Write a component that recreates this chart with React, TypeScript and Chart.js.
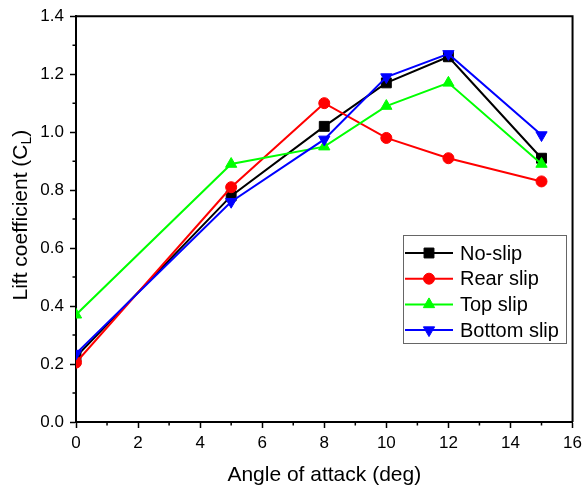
import React, { useEffect, useRef } from 'react';
import { Chart, registerables } from 'chart.js';
import { drawPoint } from 'chart.js/helpers';

Chart.register(...registerables);

const angles = [0, 5, 8, 10, 12, 15];
const noSlip = [0.225, 0.78, 1.02, 1.17, 1.26, 0.91];
const rearSlip = [0.205, 0.81, 1.1, 0.98, 0.91, 0.83];
const topSlip = [0.37, 0.89, 0.95, 1.09, 1.17, 0.89];
const bottomSlip = [0.236, 0.76, 0.975, 1.19, 1.27, 0.99];
const seriesNames = ['No-slip', 'Rear slip', 'Top slip', 'Bottom slip'];
const seriesColors = ['#000000', '#ff0000', '#00ff00', '#0000ff'];
const xTitle = 'Angle of attack (deg)';
const yTitleMain = 'Lift coefficient (C';
const yTitleSub = 'L';
const yTitleEnd = ')';

const FONT = "'Liberation Sans', Arial, sans-serif";

const pointStyles: any[] = ['rect', 'circle', 'triangle', 'triangle'];
const pointRotations = [0, 0, 0, 180];
const pointRadii = [7, 5.5, 6.5, 6.5];

const framePlugin = {
  id: 'frameAndMinor',
  beforeDatasetsDraw(chart: any) {
    const { ctx, chartArea } = chart;
    const { left, right, top, bottom } = chartArea;
    ctx.save();
    ctx.strokeStyle = '#000';
    ctx.lineWidth = 2;
    ctx.beginPath();
    ctx.moveTo(left, top);
    ctx.lineTo(right, top);
    ctx.lineTo(right, bottom);
    ctx.stroke();
    // minor ticks
    ctx.lineWidth = 1.5;
    const xs = chart.scales.x;
    const ys = chart.scales.y;
    ctx.beginPath();
    for (let v = 1; v < 16; v += 2) {
      const px = xs.getPixelForValue(v);
      ctx.moveTo(px, bottom);
      ctx.lineTo(px, bottom + 3.5);
    }
    for (let i = 1; i < 14; i += 2) {
      const py = ys.getPixelForValue(i / 10);
      ctx.moveTo(left, py);
      ctx.lineTo(left - 3.5, py);
    }
    ctx.stroke();
    ctx.restore();
  },
  afterDraw(chart: any) {
    const { ctx, chartArea } = chart;
    ctx.save();
    // y title with subscript
    const cy = (chartArea.top + chartArea.bottom) / 2 - 4;
    ctx.fillStyle = '#000';
    ctx.textBaseline = 'alphabetic';
    ctx.textAlign = 'left';
    const mainFont = `21px ${FONT}`;
    const subFont = `14px ${FONT}`;
    ctx.font = mainFont;
    const w1 = ctx.measureText(yTitleMain).width;
    const w3 = ctx.measureText(yTitleEnd).width;
    ctx.font = subFont;
    const w2 = ctx.measureText(yTitleSub).width;
    const total = w1 + w2 + w3;
    ctx.translate(27, cy);
    ctx.rotate(-Math.PI / 2);
    let x0 = -total / 2;
    ctx.font = mainFont;
    ctx.fillText(yTitleMain, x0, 0);
    x0 += w1;
    ctx.font = subFont;
    ctx.fillText(yTitleSub, x0, 4);
    x0 += w2;
    ctx.font = mainFont;
    ctx.fillText(yTitleEnd, x0, 0);
    ctx.restore();

    // legend
    ctx.save();
    ctx.strokeStyle = '#666';
    ctx.lineWidth = 1;
    ctx.strokeRect(403.5, 235.5, 163, 108);
    ctx.font = `20px ${FONT}`;
    ctx.textBaseline = 'middle';
    ctx.textAlign = 'left';
    chart.data.datasets.forEach((ds: any, i: number) => {
      const y = 253 + i * 25.7;
      ctx.strokeStyle = ds.borderColor;
      ctx.lineWidth = 2;
      ctx.beginPath();
      ctx.moveTo(405, y);
      ctx.lineTo(453, y);
      ctx.stroke();
      ctx.fillStyle = ds.borderColor;
      ctx.strokeStyle = ds.borderColor;
      ctx.lineWidth = 1;
      drawPoint(ctx, {
        pointStyle: ds.pointStyle,
        rotation: ds.pointRotation,
        radius: ds.pointRadius,
        borderWidth: 1,
      } as any, 429, y);
      ctx.fillStyle = '#000';
      ctx.fillText(ds.label, 460, y + 1);
    });
    ctx.restore();
  },
};

export default function App() {
  const ref = useRef<HTMLCanvasElement>(null);
  useEffect(() => {
    if (!ref.current) return;
    const seriesValues = [noSlip, rearSlip, topSlip, bottomSlip];
    const datasets = seriesValues.map((vals, i) => ({
      label: seriesNames[i],
      data: angles.map((a, j) => ({ x: a, y: vals[j] })),
      borderColor: seriesColors[i],
      backgroundColor: seriesColors[i],
      pointBackgroundColor: seriesColors[i],
      pointBorderColor: seriesColors[i],
      borderWidth: 2,
      pointStyle: pointStyles[i],
      pointRotation: pointRotations[i],
      pointRadius: pointRadii[i],
      pointBorderWidth: 1,
      order: 4 - i,
      tension: 0,
    }));
    const chart = new Chart(ref.current, {
      type: 'line',
      data: { datasets },
      plugins: [framePlugin],
      options: {
        responsive: false,
        animation: false,
        layout: { padding: { top: 13, right: 10, left: 0, bottom: 0 } },
        plugins: { legend: { display: false }, tooltip: { enabled: false } },
        scales: {
          x: {
            type: 'linear',
            min: 0,
            max: 16,
            afterFit: (s: any) => { s.height = 68; },
            ticks: { stepSize: 2, color: '#000', font: { family: FONT, size: 17 }, padding: 5, maxRotation: 0 },
            grid: { drawOnChartArea: false, drawTicks: true, tickLength: 6, tickColor: '#000', tickWidth: 1.5 },
            border: { display: true, color: '#000', width: 2 },
            title: { display: true, text: xTitle, color: '#000', font: { family: FONT, size: 21 }, padding: { top: 0, bottom: 2 } },
          },
          y: {
            type: 'linear',
            min: 0,
            max: 1.4,
            afterFit: (s: any) => { s.width = 76; },
            ticks: { stepSize: 0.2, color: '#000', font: { family: FONT, size: 17 }, padding: 6, callback: (v: any) => Number(v).toFixed(1) },
            grid: { drawOnChartArea: false, drawTicks: true, tickLength: 6, tickColor: '#000', tickWidth: 1.5 },
            border: { display: true, color: '#000', width: 2 },
          },
        },
      } as any,
    });
    return () => chart.destroy();
  }, []);
  return (
    <div style={{ position: 'absolute', left: 0, top: 0, width: 587, height: 490, background: '#fff' }}>
      <canvas ref={ref} width={587} height={490} />
    </div>
  );
}
